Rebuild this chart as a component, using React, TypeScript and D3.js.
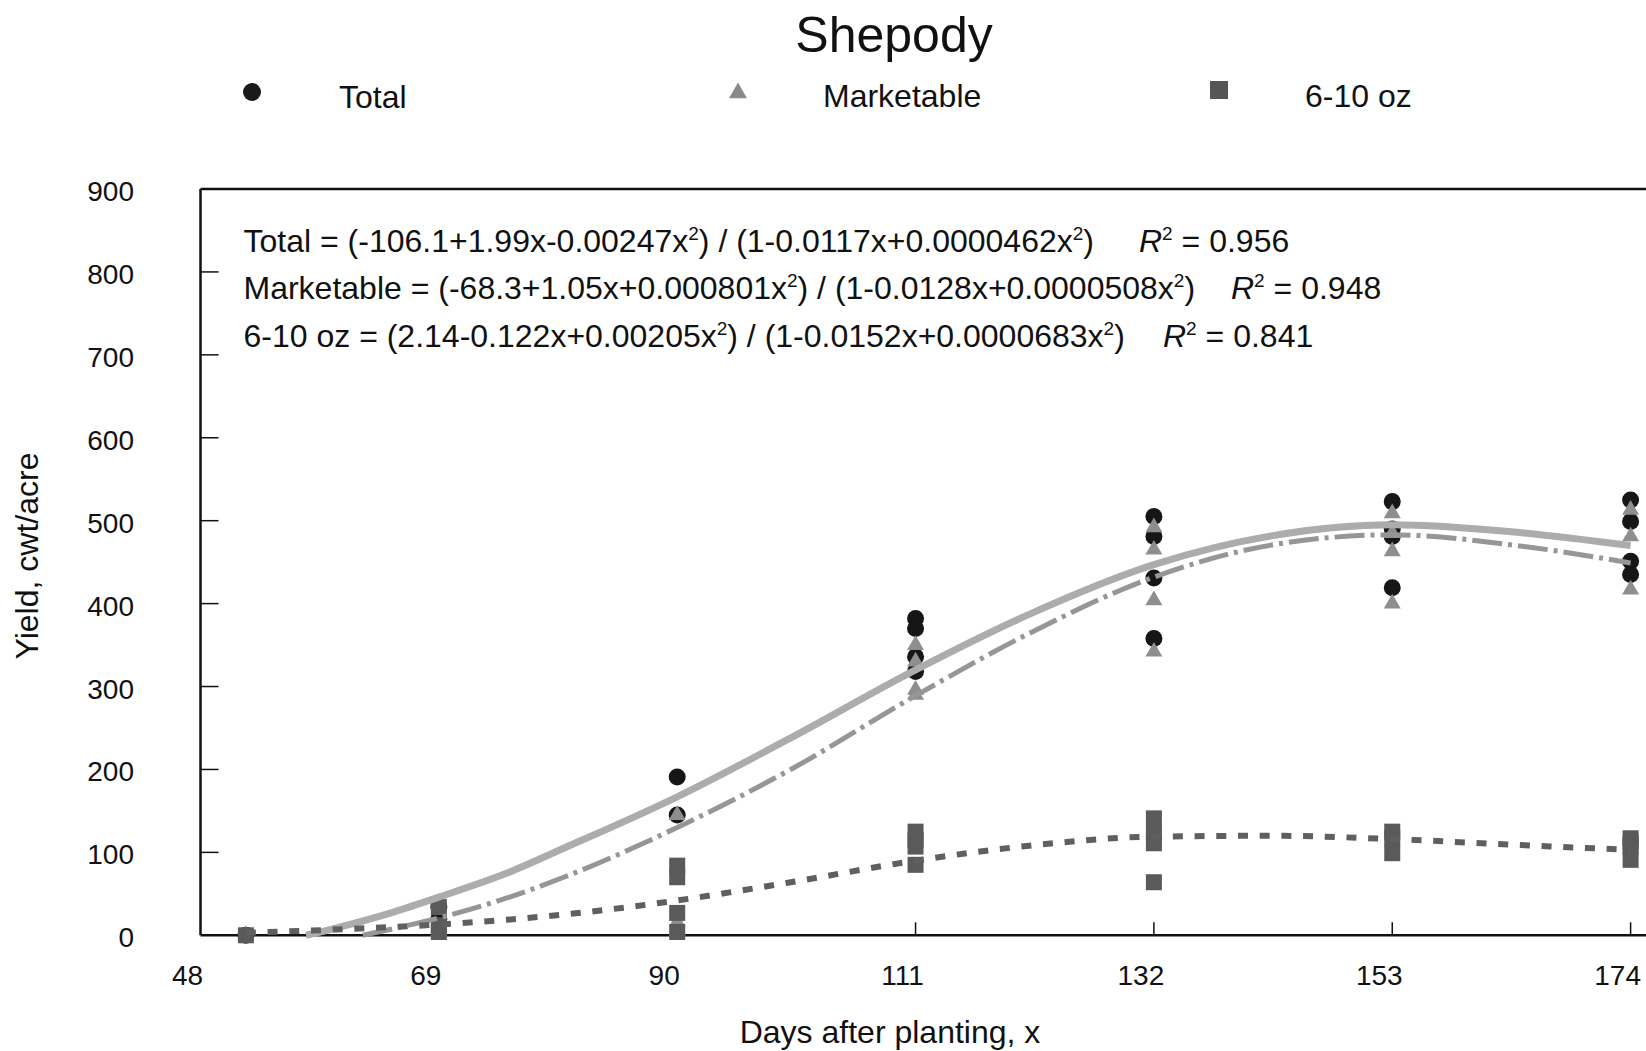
import React from "react";
import * as d3 from "d3";

// ---------- data ----------
const xTicks = [48, 69, 90, 111, 132, 153, 174];
const yTicks = [0, 100, 200, 300, 400, 500, 600, 700, 800, 900];

// observed points
const totalX = [52, 69, 69, 90, 90, 111, 111, 111, 111, 132, 132, 132, 132, 153, 153, 153, 153, 174, 174, 174, 174];
const totalY = [0, 34, 20, 191, 145, 382, 370, 336, 318, 505, 481, 431, 358, 523, 490, 481, 419, 525, 499, 451, 435];

const marketX = [52, 69, 90, 90, 90, 111, 111, 111, 111, 132, 132, 132, 132, 153, 153, 153, 153, 174, 174, 174];
const marketY = [0, 5, 145, 16, 5, 350, 330, 296, 290, 492, 465, 404, 342, 509, 485, 463, 400, 513, 481, 417];

const sixTenX = [52, 69, 69, 69, 90, 90, 90, 90, 111, 111, 111, 111, 132, 132, 132, 132, 153, 153, 153, 174, 174, 174, 174];
const sixTenY = [0, 34, 12, 4, 84, 70, 27, 4, 125, 115, 107, 85, 141, 123, 111, 64, 125, 117, 99, 117, 112, 107, 91];

// fitted curves
const totalFitX = [57.3, 60, 65, 69, 75, 80, 90, 100, 111, 121, 132, 142.5, 153, 164, 174];
const totalFitY = [0, 9, 28, 46, 75, 105, 167, 238, 320, 387, 447, 482, 495, 486, 470];

const marketFitX = [62.3, 65, 69, 75, 80, 90, 100, 111, 121, 132, 142.5, 153, 164, 174];
const marketFitY = [0, 8, 21, 45, 70, 130, 200, 289, 364, 432, 471, 483, 470, 449];

const sixTenFitX = [52, 60, 69, 80, 90, 100, 111, 121, 132, 142.5, 153, 164, 174];
const sixTenFitY = [3, 7, 13, 25, 42, 64, 90, 108, 119, 120, 116, 109, 103];

const legendLabels = ["Total", "Marketable", "6-10 oz"];
const equations = [
  { name: "Total", a: "-106.1+1.99x-0.00247x", b: "1-0.0117x+0.0000462x", r2: "0.956" },
  { name: "Marketable", a: "-68.3+1.05x+0.000801x", b: "1-0.0128x+0.0000508x", r2: "0.948" },
  { name: "6-10 oz", a: "2.14-0.122x+0.00205x", b: "1-0.0152x+0.0000683x", r2: "0.841" },
];

// ---------- layout ----------
const W = 1646;
const H = 1051;
const left = 200.5;
const right = 1646;
const top = 189;
const bottom = 935.3;
const FONT = "'Liberation Sans', Arial, Helvetica, sans-serif";

const x = d3.scaleLinear().domain([48, 48 + (right - left) / 11.35]).range([left, right]);
const y = d3.scaleLinear().domain([0, 900]).range([bottom, top]);

const zip = (xs: number[], ys: number[]) => xs.map((v, i) => [v, ys[i]] as [number, number]);

const line = d3
  .line<[number, number]>()
  .x((d) => x(d[0]))
  .y((d) => y(d[1]))
  .curve(d3.curveMonotoneX);

const triPath = d3.symbol().type(d3.symbolTriangle).size(125)();
const triLegend = d3.symbol().type(d3.symbolTriangle).size(140)();

export default function App() {
  const eqX = 243.5;
  const eqBase = [252, 299, 347];
  const r2X = [1139, 1231, 1163];
  const sup = -12;

  return (
    <svg
      width={W}
      height={H}
      viewBox={`0 0 ${W} ${H}`}
      style={{ position: "absolute", left: 0, top: 0, background: "#fff" }}
      fontFamily={FONT}
    >
      <rect x={0} y={0} width={W} height={H} fill="#fff" />

      {/* title */}
      <text x={894} y={52} fontSize={50} textAnchor="middle" fill="#111">
        Shepody
      </text>

      {/* legend */}
      <g fill="#111" fontSize={32}>
        <circle cx={252} cy={92} r={9} fill="#1a1a1a" />
        <text x={339} y={108}>{legendLabels[0]}</text>
        <path d={triLegend as string} transform="translate(738,93)" fill="#8a8a8a" />
        <text x={823} y={107}>{legendLabels[1]}</text>
        <rect x={1210} y={81} width={18} height={18} fill="#555" />
        <text x={1305} y={107}>{legendLabels[2]}</text>
      </g>

      {/* plot frame */}
      <g stroke="#111" strokeWidth={2.5} fill="none">
        <line x1={left} y1={top} x2={right} y2={top} />
        <line x1={left} y1={top} x2={left} y2={bottom} />
        <line x1={left} y1={bottom} x2={right} y2={bottom} />
      </g>

      {/* y ticks (inside) */}
      <g stroke="#111" strokeWidth={1.5}>
        {yTicks.filter((t) => t > 0 && t < 900).map((t) => (
          <line key={t} x1={left} x2={left + 18} y1={y(t)} y2={y(t)} />
        ))}
      </g>
      <g fontSize={28} fill="#111" textAnchor="end">
        {yTicks.map((t) => (
          <text key={t} x={134} y={y(t) + 12}>
            {t}
          </text>
        ))}
      </g>

      {/* x ticks (inside) */}
      <g stroke="#111" strokeWidth={1.5}>
        {xTicks.filter((t) => t > 48).map((t) => (
          <line key={t} x1={x(t)} x2={x(t)} y1={bottom} y2={bottom - 13} />
        ))}
      </g>
      <g fontSize={28} fill="#111" textAnchor="middle">
        {xTicks.map((t) => (
          <text key={t} x={x(t) - 13} y={985}>
            {t}
          </text>
        ))}
      </g>

      {/* axis titles */}
      <text x={890} y={1043} fontSize={32} textAnchor="middle" fill="#111">
        Days after planting, x
      </text>
      <text
        transform={`translate(38,556) rotate(-90)`}
        fontSize={32}
        textAnchor="middle"
        fill="#111"
      >
        Yield, cwt/acre
      </text>

      {/* equations */}
      <g fontSize={32} fill="#111">
        {equations.map((e, i) => (
          <g key={e.name}>
            <text x={eqX} y={eqBase[i]}>
              {`${e.name} = (${e.a}`}
              <tspan dy={sup} fontSize={19}>2</tspan>
              <tspan dy={-sup}>{`) / (${e.b}`}</tspan>
              <tspan dy={sup} fontSize={19}>2</tspan>
              <tspan dy={-sup}>)</tspan>
            </text>
            <text x={r2X[i]} y={eqBase[i]}>
              <tspan fontStyle="italic">R</tspan>
              <tspan dy={sup} fontSize={19}>2</tspan>
              <tspan dy={-sup}>{` = ${e.r2}`}</tspan>
            </text>
          </g>
        ))}
      </g>

      {/* markers */}
      <g>
        {totalX.map((d, i) => (
          <circle key={"c" + i} cx={x(d)} cy={y(totalY[i])} r={8.5} fill="#161616" />
        ))}
        {marketX.map((d, i) => (
          <path
            key={"t" + i}
            d={triPath as string}
            transform={`translate(${x(d)},${y(marketY[i])})`}
            fill="#8e8e8e"
          />
        ))}
        {sixTenX.map((d, i) => (
          <rect
            key={"s" + i}
            x={x(d) - 8}
            y={y(sixTenY[i]) - 8}
            width={16}
            height={16}
            fill="#5a5a5a"
          />
        ))}
      </g>

      {/* fitted curves */}
      <path
        d={line(zip(totalFitX, totalFitY)) as string}
        fill="none"
        stroke="#acacac"
        strokeWidth={7}
      />
      <path
        d={line(zip(marketFitX, marketFitY)) as string}
        fill="none"
        stroke="#969696"
        strokeWidth={5}
        strokeDasharray="30 6 4 6"
      />
      <path
        d={line(zip(sixTenFitX, sixTenFitY)) as string}
        fill="none"
        stroke="#5f5f5f"
        strokeWidth={6}
        strokeDasharray="10 11.7"
      />
    </svg>
  );
}
